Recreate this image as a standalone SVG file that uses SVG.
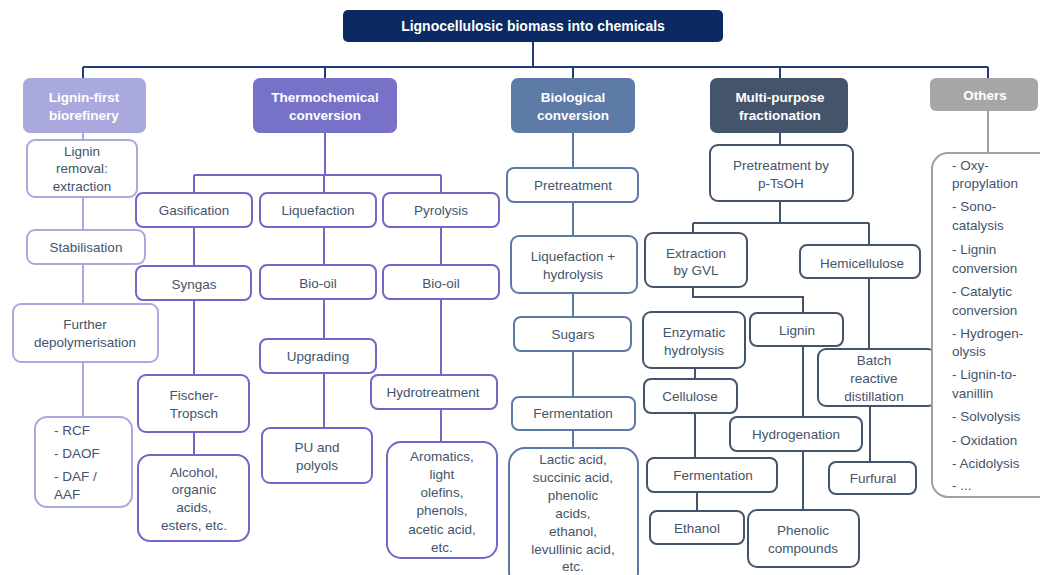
<svg xmlns="http://www.w3.org/2000/svg" width="1040" height="575" viewBox="0 0 1040 575">
<style>
text{font-family:"Liberation Sans",Arial,sans-serif;font-size:13.5px;fill:#44546a;text-anchor:middle}
.h{font-weight:bold;fill:#fff;font-size:13.5px}
.t{font-size:14px}
.l{text-anchor:start}
rect{stroke-width:2}
.nb{fill:#fff}
.lf{stroke:#aaa9dd}
.tc{stroke:#6f68c6}
.bc{stroke:#5b7aa5}
.mp{stroke:#44546a}
.ot{stroke:#a0a0a0}
#connectors path{fill:none;stroke-width:2}
</style>
<g id="connectors">
<path d="M533 42V67M83 67H988M83 67V78M325 67V78M573 67V78M780 67V78M988 67V78" stroke="#1f3c78"/>
<path d="M83 133V417" stroke="#aaa9dd"/>
<path d="M325 133V175M194 175H441M194 175V193M441 175V193M324 175V193M194 227V455M324 227V427M441 227V442" stroke="#6f68c6"/>
<path d="M573 133V448" stroke="#5b7aa5"/>
<path d="M780 133V223M693 223H869M693 223V233M869 223V349M693 287V297H803V313M803 346V510M695 368V458M870 406V462M697 492V511" stroke="#44546a"/>
<path d="M988 111V153" stroke="#a0a0a0"/>
</g>
<g id="title"><rect x="343" y="10" width="380" height="32" rx="5" fill="#0b2a63" stroke="none"/><text class="h t" x="533" y="31">Lignocellulosic biomass into chemicals</text></g>
<g id="cat-lignin-first"><rect x="23" y="78" width="123" height="55" rx="7" fill="#aaa9dd" stroke="none"/><text class="h" x="84" y="101.5">Lignin-first</text><text class="h" x="84" y="119.5">biorefinery</text></g>
<g id="cat-thermo"><rect x="253" y="78" width="144" height="55" rx="7" fill="#7771c8" stroke="none"/><text class="h" x="325" y="101.5">Thermochemical</text><text class="h" x="325" y="119.5">conversion</text></g>
<g id="cat-bio"><rect x="511" y="78" width="124" height="55" rx="7" fill="#5d7ba6" stroke="none"/><text class="h" x="573" y="101.5">Biological</text><text class="h" x="573" y="119.5">conversion</text></g>
<g id="cat-multi"><rect x="710" y="78" width="138" height="55" rx="7" fill="#44546a" stroke="none"/><text class="h" x="780" y="101.5">Multi-purpose</text><text class="h" x="780" y="119.5">fractionation</text></g>
<g id="cat-others"><rect x="930" y="78" width="108" height="33" rx="6" fill="#a6a6a6" stroke="none"/><text class="h" x="985" y="99.5">Others</text></g>

<g id="n-lignin-removal"><rect class="nb lf" x="27" y="140" width="110" height="57" rx="8"/><text x="82" y="155.5">Lignin</text><text x="82" y="172.5">removal:</text><text x="82" y="190.5">extraction</text></g>
<g id="n-stabilisation"><rect class="nb lf" x="27" y="230" width="118" height="34" rx="8"/><text x="86" y="251.5">Stabilisation</text></g>
<g id="n-further"><rect class="nb lf" x="13" y="304" width="145" height="58" rx="8"/><text x="85" y="328.5">Further</text><text x="85" y="346.5">depolymerisation</text></g>
<g id="n-rcf"><rect class="nb lf" x="35" y="417" width="97" height="90" rx="12"/><text class="l" x="54" y="434.5">- RCF</text><text class="l" x="54" y="457.5">- DAOF</text><text class="l" x="54" y="480.5">- DAF /</text><text class="l" x="54" y="498.5">AAF</text></g>

<g id="n-gasification"><rect class="nb tc" x="136" y="193" width="116" height="34" rx="7"/><text x="194" y="214.5">Gasification</text></g>
<g id="n-liquefaction"><rect class="nb tc" x="260" y="193" width="116" height="34" rx="7"/><text x="318" y="214.5">Liquefaction</text></g>
<g id="n-pyrolysis"><rect class="nb tc" x="383" y="193" width="116" height="34" rx="7"/><text x="441" y="214.5">Pyrolysis</text></g>
<g id="n-syngas"><rect class="nb tc" x="136" y="266" width="115" height="34" rx="7"/><text x="194" y="288.5">Syngas</text></g>
<g id="n-biooil-1"><rect class="nb tc" x="260" y="265" width="116" height="34" rx="7"/><text x="318" y="288">Bio-oil</text></g>
<g id="n-biooil-2"><rect class="nb tc" x="383" y="265" width="116" height="34" rx="7"/><text x="441" y="288">Bio-oil</text></g>
<g id="n-upgrading"><rect class="nb tc" x="260" y="339" width="116" height="34" rx="7"/><text x="318" y="360.5">Upgrading</text></g>
<g id="n-fischer"><rect class="nb tc" x="138" y="375" width="111" height="57" rx="8"/><text x="194" y="399.5">Fischer-</text><text x="194" y="417.5">Tropsch</text></g>
<g id="n-alcohol"><rect class="nb tc" x="138" y="455" width="111" height="86" rx="12"/><text x="194" y="476.5">Alcohol,</text><text x="194" y="494">organic</text><text x="194" y="511.5">acids,</text><text x="194" y="530">esters, etc.</text></g>
<g id="n-pu"><rect class="nb tc" x="262" y="428" width="110" height="55" rx="8"/><text x="317" y="451.5">PU and</text><text x="317" y="469.5">polyols</text></g>
<g id="n-hydrotreatment"><rect class="nb tc" x="371" y="375" width="126" height="34" rx="7"/><text x="433" y="396.5">Hydrotreatment</text></g>
<g id="n-aromatics"><rect class="nb tc" x="387" y="442" width="110" height="116" rx="14"/><text x="442" y="460.5">Aromatics,</text><text x="442" y="478.5">light</text><text x="442" y="496.5">olefins,</text><text x="442" y="515">phenols,</text><text x="442" y="533.5">acetic acid,</text><text x="442" y="551.5">etc.</text></g>

<g id="n-pretreatment"><rect class="nb bc" x="507" y="168" width="131" height="34" rx="7"/><text x="573" y="189.5">Pretreatment</text></g>
<g id="n-liq-hydrolysis"><rect class="nb bc" x="511" y="236" width="126" height="57" rx="8"/><text x="573" y="260.5">Liquefaction +</text><text x="573" y="278.5">hydrolysis</text></g>
<g id="n-sugars"><rect class="nb bc" x="514" y="317" width="117" height="34" rx="7"/><text x="573" y="338.5">Sugars</text></g>
<g id="n-fermentation-1"><rect class="nb bc" x="512" y="397" width="123" height="33" rx="7"/><text x="573" y="417.5">Fermentation</text></g>
<g id="n-lactic"><rect class="nb bc" x="509" y="448" width="129" height="140" rx="16"/><text x="573" y="463.5">Lactic acid,</text><text x="573" y="481.5">succinic acid,</text><text x="573" y="499.5">phenolic</text><text x="573" y="517.5">acids,</text><text x="573" y="535.5">ethanol,</text><text x="573" y="553.5">levullinic acid,</text><text x="573" y="571">etc.</text></g>

<g id="n-ptsoh"><rect class="nb mp" x="710" y="145" width="143" height="56" rx="8"/><text x="781" y="169.5">Pretreatment by</text><text x="781" y="187.5">p-TsOH</text></g>
<g id="n-gvl"><rect class="nb mp" x="645" y="233" width="102" height="54" rx="8"/><text x="696" y="257.5">Extraction</text><text x="696" y="274.5">by GVL</text></g>
<g id="n-hemicellulose"><rect class="nb mp" x="800" y="245" width="120" height="33" rx="7"/><text x="862" y="267.5">Hemicellulose</text></g>
<g id="n-enzymatic"><rect class="nb mp" x="643" y="312" width="102" height="56" rx="8"/><text x="694" y="336.5">Enzymatic</text><text x="694" y="354.5">hydrolysis</text></g>
<g id="n-lignin"><rect class="nb mp" x="750" y="313" width="93" height="33" rx="7"/><text x="797" y="334.5">Lignin</text></g>
<g id="n-batch"><rect class="nb mp" x="818" y="349" width="118" height="57" rx="8"/><text x="874" y="364.5">Batch</text><text x="874" y="382.5">reactive</text><text x="874" y="400.5">distillation</text></g>
<g id="n-cellulose"><rect class="nb mp" x="644" y="379" width="93" height="34" rx="7"/><text x="690" y="400.5">Cellulose</text></g>
<g id="n-hydrogenation"><rect class="nb mp" x="730" y="417" width="132" height="34" rx="7"/><text x="796" y="438.5">Hydrogenation</text></g>
<g id="n-fermentation-2"><rect class="nb mp" x="647" y="458" width="130" height="34" rx="7"/><text x="713" y="479.5">Fermentation</text></g>
<g id="n-furfural"><rect class="nb mp" x="829" y="462" width="87" height="32" rx="7"/><text x="873" y="482.5">Furfural</text></g>
<g id="n-ethanol"><rect class="nb mp" x="650" y="511" width="94" height="33" rx="7"/><text x="697" y="532.5">Ethanol</text></g>
<g id="n-phenolic"><rect class="nb mp" x="748" y="510" width="111" height="57" rx="9"/><text x="803" y="534.5">Phenolic</text><text x="803" y="552.5">compounds</text></g>

<g id="n-others-list"><rect class="nb ot" x="932" y="153" width="130" height="344" rx="16"/>
<text class="l" x="952" y="169.5">- Oxy-</text><text class="l" x="952" y="188">propylation</text>
<text class="l" x="952" y="211">- Sono-</text><text class="l" x="952" y="230">catalysis</text>
<text class="l" x="952" y="254">- Lignin</text><text class="l" x="952" y="272.5">conversion</text>
<text class="l" x="952" y="296">- Catalytic</text><text class="l" x="952" y="314.5">conversion</text>
<text class="l" x="952" y="337.5">- Hydrogen-</text><text class="l" x="952" y="355.5">olysis</text>
<text class="l" x="952" y="379">- Lignin-to-</text><text class="l" x="952" y="397.5">vanillin</text>
<text class="l" x="952" y="421">- Solvolysis</text><text class="l" x="952" y="444.5">- Oxidation</text>
<text class="l" x="952" y="468">- Acidolysis</text><text class="l" x="952" y="490">- ...</text></g>
</svg>
